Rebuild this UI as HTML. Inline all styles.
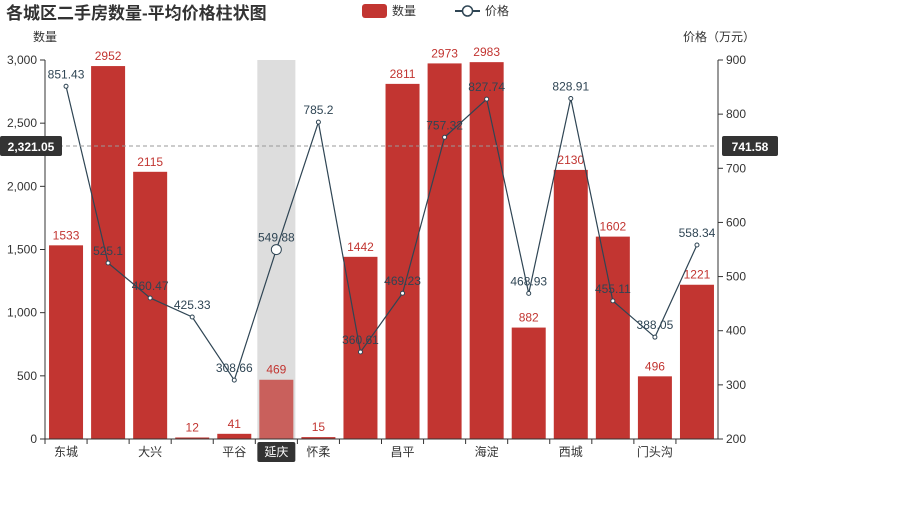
<!DOCTYPE html>
<html><head><meta charset="utf-8"><style>
body{margin:0;background:#fff;font-family:"Liberation Sans","Noto Sans CJK SC",sans-serif}
svg text{font-family:"Liberation Sans","Noto Sans CJK SC",sans-serif}
</style></head><body>
<svg id="c" width="900" height="500"></svg>
<script>
const categories=["东城","丰台","大兴","密云","平谷","延庆","怀柔","房山","昌平","朝阳","海淀","石景山","西城","通州","门头沟","顺义"];
const counts=[1533,2952,2115,12,41,469,15,1442,2811,2973,2983,882,2130,1602,496,1221];
const prices=[851.43,525.1,460.47,425.33,308.66,549.88,785.2,360.61,469.23,757.32,827.74,468.93,828.91,455.11,388.05,558.34];
const leftTicks=[0,500,1000,1500,2000,2500,3000];
const rightTicks=[200,300,400,500,600,700,800,900];
const hi=5;
const L=45,R=718,T=60,B=439;
const bw=(R-L)/categories.length;
const xc=i=>L+bw*(i+0.5);
const yL=v=>B-(v/3000)*(B-T);
const yR=v=>B-((v-200)/700)*(B-T);
const svg=document.getElementById('c');const NS='http://www.w3.org/2000/svg';
function mk(t,a,p){const e=document.createElementNS(NS,t);for(const k in a)e.setAttribute(k,a[k]);(p||svg).appendChild(e);return e;}
function tx(x,y,s,a){const e=mk('text',Object.assign({x:x,y:y},a));e.textContent=s;return e;}
let e;
e=tx(6,19,'各城区二手房数量-平均价格柱状图',{'font-size':17,'font-weight':'bold',fill:'#333'});


// legend
e=mk('g',{});


mk('rect',{x:362,y:4,width:25,height:14,rx:3,fill:'#c23531'},e);tx(392,15,'数量',{'font-size':12,fill:'#333'},e);
e=mk('g',{});


mk('line',{x1:455,y1:11,x2:480,y2:11,stroke:'#2f4554','stroke-width':2},e);
mk('circle',{cx:467.5,cy:11,r:5,fill:'#fff',stroke:'#2f4554','stroke-width':1.5},e);
tx(485,15,'价格',{'font-size':12,fill:'#333'},e);
// highlight band
e=mk('rect',{x:L+bw*hi+2,y:T,width:bw-4,height:B-T,fill:'#ddd'});


// axes
tx(33,41,'数量',{'font-size':12,fill:'#333'});
tx(683,41,'价格（万元）',{'font-size':12,fill:'#333'});
mk('line',{x1:L,y1:T,x2:L,y2:B,stroke:'#333'});
mk('line',{x1:R,y1:T,x2:R,y2:B,stroke:'#333'});
leftTicks.forEach(v=>{const y=yL(v);mk('line',{x1:L-5,y1:y,x2:L,y2:y,stroke:'#333'});
 e=tx(L-8,y+4,v.toLocaleString('en-US'),{'font-size':12,fill:'#333','text-anchor':'end'});
 
 });
rightTicks.forEach(v=>{const y=yR(v);mk('line',{x1:R,y1:y,x2:R+5,y2:y,stroke:'#333'});
 e=tx(R+8,y+4,v,{'font-size':12,fill:'#333'});
 
 });
// bars
counts.forEach((v,i)=>{const y=yL(v);
 e=mk('rect',{x:xc(i)-17,y:y,width:34,height:B-y,fill:i==hi?'#c9605c':'#c23531'});
 
 
 tx(xc(i),y-6,v,{'font-size':12,fill:'#c23531','text-anchor':'middle'});});
mk('line',{x1:L,y1:B,x2:R,y2:B,stroke:'#333'});
categories.forEach((c,i)=>{mk('line',{x1:L+bw*i,y1:B,x2:L+bw*i,y2:B+5,stroke:'#333'});
 if(i%2==0||i==hi){
  if(i==hi){mk('rect',{x:xc(i)-19,y:B+3,width:38,height:20,rx:2,fill:'#333'});}
  e=tx(xc(i),B+17,c,{'font-size':12,fill:i==hi?'#fff':'#333','text-anchor':'middle'});
  
  }});
// line
const pts=prices.map((v,i)=>xc(i)+','+yR(v)).join(' ');
e=mk('polyline',{points:pts,fill:'none',stroke:'#2f4554','stroke-width':1.2});


prices.forEach((v,i)=>{const y=yR(v);
 e=mk('circle',{cx:xc(i),cy:y,r:i==hi?5:2,fill:'#fff',stroke:'#2f4554','stroke-width':1});
 
 
 tx(xc(i),y-8,v,{'font-size':12,fill:'#2f4554','text-anchor':'middle'});});
// crosshair
const cy=146;
mk('line',{x1:L,y1:cy,x2:R,y2:cy,stroke:'#999','stroke-dasharray':'4,3'});
mk('rect',{x:0,y:cy-10,width:62,height:20,rx:2,fill:'#333'});
tx(31,cy+5,'2,321.05',{'font-size':12,fill:'#fff','text-anchor':'middle','font-weight':'bold'});
mk('rect',{x:722,y:cy-10,width:56,height:20,rx:2,fill:'#333'});
tx(750,cy+5,'741.58',{'font-size':12,fill:'#fff','text-anchor':'middle','font-weight':'bold'});
</script>
</body></html>
